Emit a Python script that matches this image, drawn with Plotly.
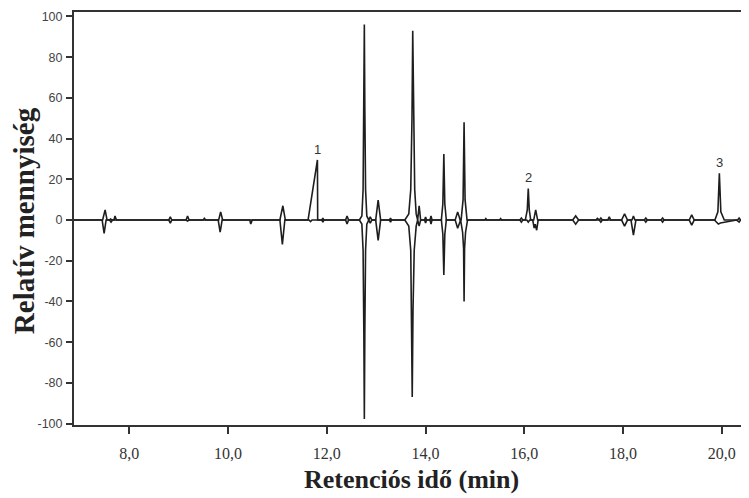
import plotly.graph_objects as go

# upper chromatogram (positive side), retention time in min / relative amount
t_up = [6.88, 7.46, 7.51, 7.55, 7.60, 7.62, 7.65, 7.69, 7.71, 7.74,
        8.80, 8.83, 8.86, 9.15, 9.18, 9.21, 9.50, 9.52, 9.55,
        9.81, 9.85, 9.89, 11.05, 11.11, 11.16,
        11.62, 11.81, 11.815, 11.90, 11.92, 11.94,
        12.38, 12.41, 12.44,
        12.66, 12.71, 12.735, 12.75, 12.76, 12.77, 12.785, 12.81, 12.85, 12.88, 12.91,
        12.99, 13.04, 13.09, 13.27, 13.29, 13.31,
        13.58, 13.66, 13.70, 13.725, 13.74, 13.755, 13.78, 13.81, 13.84, 13.87, 13.90,
        13.98, 14.00, 14.02, 14.09, 14.11, 14.13,
        14.32, 14.35, 14.37, 14.39, 14.42,
        14.60, 14.65, 14.70, 14.72, 14.76, 14.78, 14.80, 14.84,
        15.20, 15.22, 15.24, 15.50, 15.52, 15.54,
        15.91, 15.94, 15.97, 16.02, 16.06, 16.08, 16.10, 16.13,
        16.19, 16.23, 16.25, 16.27, 16.98, 17.04, 17.10,
        17.45, 17.48, 17.51, 17.52, 17.55, 17.58, 17.69, 17.72, 17.75,
        17.97, 18.03, 18.09, 18.18, 18.21, 18.24,
        18.43, 18.46, 18.49, 18.77, 18.80, 18.83, 19.34, 19.39, 19.44,
        19.86, 19.92, 19.95, 19.98, 20.05, 20.32, 20.35, 20.38, 20.60]
y_up = [0, 0, 5, 0, 0, 0.5, 0, 0, 2, 0,
        0, 1.5, 0, 0, 2, 0, 0, 0.8, 0,
        0, 4, 0, 0, 7, 0,
        0, 29.5, 0, 0, 1, 0,
        0, 2, 0,
        0, 2, 15, 55, 96, 55, 15, 2, 0, 1.5, 0,
        0, 9.8, 0, 0, 1, 0,
        0, 3, 15, 50, 93, 50, 15, 3, 0, 7, 0,
        0, 1.5, 0, 0, 2, 0,
        0, 8, 32.4, 8, 0,
        0, 4, 0, 0, 10, 48, 10, 0,
        0, 0.7, 0, 0, 0.7, 0,
        0, 1, 0, 0, 5, 15.5, 5, 0,
        0, 5, 3, 0, 0, 2, 0,
        0, 0.8, 0, 0, 1, 0, 0, 1.5, 0,
        0, 3, 0, 0, 2, 0,
        0, 1, 0, 0, 1, 0, 0, 2.5, 0,
        0, 4, 23, 4, 0, 0, 1, 0, 0]

# lower chromatogram (mirrored, negative side)
t_dn = [6.88, 7.45, 7.49, 7.53, 7.60, 7.63, 7.66,
        8.80, 8.83, 8.86, 9.15, 9.18, 9.21,
        9.80, 9.84, 9.88, 10.44, 10.46, 10.49,
        11.05, 11.10, 11.15, 11.64, 11.67, 11.70, 11.90, 11.92, 11.94,
        12.38, 12.41, 12.44,
        12.66, 12.71, 12.735, 12.75, 12.76, 12.77, 12.785, 12.81, 12.85, 12.88, 12.91,
        12.99, 13.04, 13.09, 13.27, 13.29, 13.31,
        13.58, 13.66, 13.70, 13.715, 13.73, 13.745, 13.77, 13.81, 13.84, 13.87, 13.90,
        13.98, 14.00, 14.02, 14.09, 14.11, 14.13,
        14.32, 14.35, 14.37, 14.39, 14.42,
        14.60, 14.65, 14.70, 14.71, 14.75, 14.77, 14.78, 14.79, 14.81, 14.85,
        15.91, 15.94, 15.97, 16.05, 16.08, 16.11,
        16.17, 16.20, 16.22, 16.25, 16.28, 16.98, 17.04, 17.10,
        17.52, 17.55, 17.58, 17.97, 18.03, 18.09, 18.16, 18.21, 18.26,
        18.43, 18.46, 18.49, 18.77, 18.80, 18.83, 19.34, 19.39, 19.44,
        19.85, 19.93, 19.97, 20.10, 20.30, 20.35, 20.38, 20.60]
y_dn = [0, 0, -6.5, 0, 0, -1, 0,
        0, -1.5, 0, 0, -0.5, 0,
        0, -6, 0, 0, -2, 0,
        0, -12, 0, 0, -0.8, 0, 0, -1, 0,
        0, -2, 0,
        0, -2, -15, -55, -97.7, -55, -15, -2, 0, -1.5, 0,
        0, -10, 0, 0, -1, 0,
        0, -3, -15, -45, -87, -45, -15, -3, 0, -3, 0,
        0, -1.5, 0, 0, -2, 0,
        0, -7, -27, -7, 0,
        0, -4, 0, 0, -6, -14, -40, -14, -6, 0,
        0, -1, 0, 0, -1, 0,
        0, -4, -2, -5, 0, 0, -2, 0,
        0, -1, 0, 0, -3, 0, 0, -7.4, 0,
        0, -1, 0, 0, -1, 0, 0, -2.5, 0,
        0, -2, -1.5, -0.8, 0, -1, 0, 0]

# labelled peaks
peak_names = ["1", "2", "3"]
peak_t = [11.81, 16.08, 19.95]
peak_h = [29.5, 15.5, 23]

x_ticks = [8, 10, 12, 14, 16, 18, 20]
x_labels = ["8,0", "10,0", "12,0", "14,0", "16,0", "18,0", "20,0"]
y_ticks = [100, 80, 60, 40, 20, 0, -20, -40, -60, -80, -100]
y_labels = ["100", "80", "60", "40", "20", "0", "-20", "-40", "-60", "-80", "-100"]

line_col = "#1e1e1e"
fig = go.Figure()
fig.add_trace(go.Scatter(x=t_up, y=y_up, mode="lines",
                         line=dict(color=line_col, width=1.6), showlegend=False))
fig.add_trace(go.Scatter(x=t_dn, y=y_dn, mode="lines",
                         line=dict(color=line_col, width=1.6), showlegend=False))

for name, t, h in zip(peak_names, peak_t, peak_h):
    fig.add_annotation(x=t, y=h, text=name, showarrow=False, yanchor="bottom", yshift=1,
                       font=dict(family="Liberation Sans", size=13, color="#333"))

serif = "Liberation Serif"
fig.add_annotation(text="<b>Retenciós idő (min)</b>", xref="paper", yref="paper",
                   x=0.5, y=-0.133, xanchor="center", yanchor="middle", showarrow=False,
                   font=dict(family=serif, size=26, color="#222"))
fig.add_annotation(text="<b>Relatív mennyiség</b>", xref="paper", yref="paper",
                   x=-0.0742, y=0.496, xanchor="center", yanchor="middle", showarrow=False,
                   textangle=-90, font=dict(family=serif, size=29, color="#222"))

fig.update_xaxes(range=[6.88, 20.53], showgrid=False, zeroline=False, automargin=False,
                 showline=True, linecolor="#333", linewidth=2, mirror=True,
                 ticks="outside", ticklen=7, tickwidth=2, tickcolor="#333",
                 tickvals=x_ticks, ticktext=x_labels, ticklabelstandoff=6,
                 tickfont=dict(family=serif, size=16, color="#333"))
fig.update_yaxes(range=[-100.7, 102.2], showgrid=False, zeroline=False, automargin=False,
                 showline=True, linecolor="#333", linewidth=2,
                 ticks="outside", ticklen=6, tickwidth=1.5, tickcolor="#333",
                 tickvals=y_ticks, ticktext=y_labels, ticklabelstandoff=1,
                 tickfont=dict(family="Liberation Sans", size=12.5, color="#444"))
# page keeps the browser's 8px body margin, so the figure is 8px smaller
fig.update_layout(width=741, height=490, margin=dict(l=66, r=1, t=4, b=73),
                  plot_bgcolor="white", paper_bgcolor="white")

fig.write_html("out.html")
